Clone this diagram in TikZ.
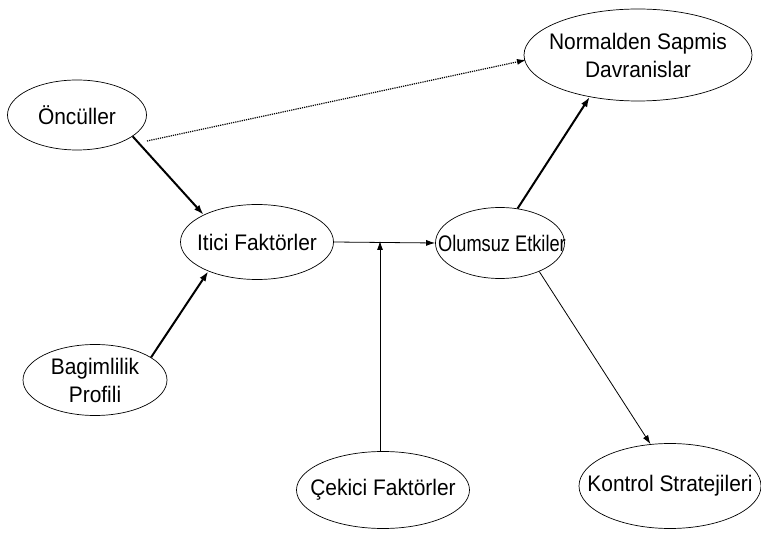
\documentclass[tikz,border=0pt]{standalone}
\usepackage{fontspec}
\setmainfont{Liberation Sans}[FakeStretch=0.93]
\newfontfamily\narrowfont{Liberation Sans}[FakeStretch=0.81]
\usetikzlibrary{shapes.geometric,arrows.meta}
\begin{document}
\begin{tikzpicture}[x=1pt,y=-1pt,
  oval/.style={ellipse,draw,line width=0.7pt,inner sep=0pt},
  txt/.style={font=\fontsize{22.5}{28}\selectfont,align=center,inner sep=0pt},
  thin arrow/.style={-{Latex[length=9pt,width=6pt]},line width=0.8pt},
  thick arrow/.style={-{Latex[length=10pt,width=7pt]},line width=2pt},
  dot arrow/.style={-{Latex[length=9pt,width=6pt]},line width=1.2pt,densely dotted}]
\useasboundingbox (0,0) rectangle (761,534);
\node[oval,minimum width=139pt,minimum height=70pt] (onc) at (77,115) {};
\node[txt] (onct) at (onc.center) {Öncüller};
\node[oval,minimum width=153pt,minimum height=75pt] (iti) at (257,242) {};
\node[txt] (itit) at (iti.center) {Itici Faktörler};
\node[oval,minimum width=129pt,minimum height=71pt] (olu) at (500,243) {};
\node[txt,font=\narrowfont\fontsize{22.5}{28}\selectfont] (olut) at (502,243) {Olumsuz Etkiler};
\node[oval,minimum width=228pt,minimum height=92pt] (nor) at (638,55) {};
\node[txt] (nort) at (nor.center) {Normalden Sapmis\\Davranislar};
\node[oval,minimum width=144pt,minimum height=71pt] (bag) at (95,380) {};
\node[txt] (bagt) at (bag.center) {Bagimlilik\\Profili};
\node[oval,minimum width=173pt,minimum height=77pt] (cek) at (383,490) {};
\node[txt] (cekt) at (cek.center) {Çekici Faktörler};
\node[oval,minimum width=182pt,minimum height=85pt] (kon) at (670,486) {};
\node[txt] (kont) at (kon.center) {Kontrol Stratejileri};
\coordinate (j) at (380,241);
\coordinate (os) at (147,141);
\coordinate (oe) at (526,60);
\draw[dot arrow] (os) -- (oe);
\draw[thick arrow] (onc.-21) -- (iti.153);
\draw[thick arrow] (bag.22) -- (iti.211);
\draw[thin arrow] (iti.east) -- (olu.west);
\draw[thin arrow] (cek.north -| j) -- (j);
\draw[thick arrow] (olu.63) -- (nor.221);
\draw[thin arrow] (olu.-36) -- (kon.115);
\end{tikzpicture}
\end{document}
